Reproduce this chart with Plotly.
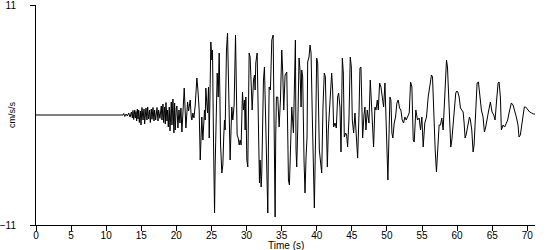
import plotly.graph_objects as go

# Time (s) and acceleration (cm/s/s), in segments
t_onset = [0, 12.40, 12.50, 12.64, 12.83, 13.02, 13.21, 13.40, 13.59, 13.73, 13.82, 13.92, 14.06, 14.15, 14.25, 14.34,
           14.44, 14.53, 14.63, 14.72, 14.87, 14.96, 15.10, 15.25, 15.39, 15.48, 15.67, 15.81, 15.91, 16.05, 16.19,
           16.29, 16.43, 16.53, 16.67, 16.81, 16.90, 17.05, 17.24, 17.38, 17.47, 17.66, 17.85, 17.95, 18.09, 18.18,
           18.33, 18.42, 18.52, 18.66, 18.75, 18.85, 18.99, 19.09, 19.28, 19.37, 19.51, 19.65, 19.75]
v_onset = [0, 0, 0.15, -0.15, 0.1, -0.1, 0.2, -0.2, 0.3, -0.3, 0.45, -0.45, 0.5, -0.3, 0.35, -0.6,
           0.6, -0.4, 0.5, -0.75, 0.4, -1.0, 0.75, -0.5, 0.6, -0.9, 0.7, -0.5, 0.8, -0.4, 0.5,
           -0.75, 0.6, -0.43, 0.75, -0.6, 0.5, -0.5, 0.75, -0.6, 0.5, -0.33, 0.9, -0.5, 1.1, -0.75,
           0.8, -0.9, 1.25, -0.6, 0.5, -1.2, 0.8, -1.6, 1.3, -1.0, 1.6, -1.8, 1.2]

t_s1 = [19.84, 19.99, 20.08, 20.22, 20.37, 20.51, 20.65, 20.79, 20.98, 21.12, 21.26, 21.36, 21.50, 21.60, 21.74,
        21.83, 21.97, 22.12, 22.21, 22.35, 22.50, 22.69, 22.92, 23.07, 23.16, 23.25, 23.40, 23.54, 23.63, 23.78,
        23.92, 24.01, 24.11, 24.20, 24.35, 24.44, 24.58, 24.68, 24.77, 24.91, 25.06, 25.15, 25.30, 25.34, 25.44,
        25.53, 25.63, 25.82, 25.96, 26.10, 26.20, 26.29, 26.48, 26.62, 26.76, 26.86, 26.95, 27.14, 27.29, 27.43,
        27.52, 27.66, 27.81, 27.90, 28.04, 28.23]
v_s1 = [-1.5, 0.7, 0.9, -1.3, 0.5, -0.8, 0.7, -1.7, 0.5, 2.7, 0.3, -1.3, 0.2, 1.3, 0.4,
        0.8, 1.5, -0.2, -0.5, 0.2, -0.3, 1.0, 3.7, 2.5, 1.8, 0.5, -4.5, -1.0, -0.2, -2.5,
        -0.5, 0.5, -0.5, 2.7, 1.0, 0.2, 2.8, -2.3, 1.0, 7.3, 5.5, 6.5, -3.0, -6.8, -9.8,
        -5.0, -1.5, 4.2, 1.8, 6.2, 2.0, -2.8, -5.8, -5.0, -2.0, -0.5, -1.5, 6.5, 8.2, 3.0,
        0.5, -4.5, -1.0, 0.8, -0.5, 1.0]

t_s2 = [28.43, 28.52, 28.66, 28.81, 28.95, 29.09, 29.23, 29.42, 29.56, 29.71, 29.80, 29.90, 30.04, 30.18, 30.37,
        30.51, 30.65, 30.80, 30.99, 31.13, 31.22, 31.32, 31.51, 31.70, 31.84, 31.93, 32.08, 32.17, 32.41, 32.55,
        32.74, 32.88, 33.03, 33.12, 33.22, 33.40, 33.60, 33.79, 33.88, 33.98, 34.07, 34.16, 34.26, 34.45, 34.64,
        34.83, 35.02, 35.16, 35.30, 35.49, 35.73, 35.87, 35.97, 36.11, 36.30, 36.44, 36.68, 36.82]
v_s2 = [8.0, 4.5, -2.0, -2.3, -3.0, -2.5, -3.0, 2.3, 0.5, 1.5, -1.5, 1.8, -4.5, -5.2, 6.2,
        5.8, 2.0, 0.5, 3.5, 4.0, 2.5, 5.2, 6.2, 0.2, -6.8, -4.5, -7.2, -5.8, 3.5, 4.8,
        -2.2, -6.0, -9.8, -3.0, 2.8, 2.5, 7.5, 8.0, 1.0, -5.0, -10.2, -2.0, 1.8, 1.8, -1.2,
        1.5, 6.5, 4.2, 0.5, 4.0, 4.3, -2.0, -6.5, -7.0, -2.2, 0.8, -1.8, 2.8]

t_s3 = [36.96, 37.05, 37.15, 37.29, 37.48, 37.62, 37.77, 37.86, 38.00, 38.19, 38.33, 38.48, 38.62, 38.71, 38.90,
        39.05, 39.19, 39.38, 39.52, 39.66, 39.85, 39.99, 40.14, 40.23, 40.37, 40.56, 40.71, 40.89, 41.08, 41.23,
        41.37, 41.51, 41.65, 41.84, 41.99, 42.13, 42.27, 42.41, 42.60, 42.79, 42.98, 43.12, 43.31, 43.46, 43.65,
        43.79, 43.93, 44.12, 44.26, 44.40, 44.59, 44.78, 44.93, 45.07, 45.26]
v_s3 = [7.5, -3.5, -5.2, -1.5, 5.7, 4.5, 0.8, 4.5, 3.8, -4.5, -7.8, -4.2, -2.2, 5.3, 5.8,
        7.0, 6.2, -0.5, -4.2, -9.3, -1.5, 5.7, 5.2, 0.5, -3.5, -4.8, -5.8, 0.8, 4.2, 3.8,
        -1.8, -5.2, -1.5, 0.8, 3.3, 4.2, 2.5, -1.2, -0.8, -1.3, 1.8, 2.2, 0.8, -3.7, 5.7,
        4.2, -2.2, -1.8, -2.0, -3.2, -0.5, 5.8, 4.8, -0.5, -1.8]

t_s4 = [45.45, 45.59, 45.69, 45.83, 46.02, 46.16, 46.30, 46.40, 46.54, 46.73, 46.87, 47.01, 47.20, 47.44, 47.63,
        47.82, 48.01, 48.10, 48.29, 48.44, 48.63, 48.77, 48.96, 49.15, 49.34, 49.53, 49.72, 49.86, 50.00, 50.14,
        50.28, 50.43, 50.57, 50.71, 50.85, 51.04, 51.23, 51.42, 51.61, 51.80, 51.99, 52.18, 52.37, 52.56, 52.75]
v_s4 = [0.2, -1.5, -2.5, -4.3, 0.0, 4.7, 4.8, 0.8, -2.3, 0.0, 0.8, -1.5, 0.5, -0.8, 3.5,
        0.8, -2.8, -3.2, 0.8, 0.5, 1.5, 0.5, 3.2, 2.8, 1.8, 0.8, 3.2, -0.8, -5.2, -6.5,
        -2.5, 1.8, 1.5, -1.8, -2.3, -0.8, -0.2, 1.2, 1.5, 0.7, 0.5, -0.5, -0.8, -0.2, -0.5]

t_s5 = [52.89, 53.18, 53.37, 53.56, 53.75, 53.89, 54.12, 54.36, 54.60, 54.79, 54.98, 55.17, 55.40, 55.64, 55.88,
        56.11, 56.35, 56.50, 56.69, 56.88, 57.06, 57.25, 57.44, 57.63, 57.82, 58.01, 58.25, 58.49, 58.63, 58.77,
        58.96, 59.10, 59.25, 59.44, 59.67]
v_s5 = [-0.2, 0.2, 3.3, 2.8, -2.5, -2.7, 0.5, -0.5, -0.3, -1.5, -0.2, -3.2, -0.8, -0.2, 1.8,
        3.0, 4.0, 3.8, -0.8, -3.5, -5.7, -3.5, -1.0, -1.0, -0.3, -1.5, 1.5, 5.5, 4.8, 2.2,
        -0.8, -3.2, -2.5, -0.8, 1.5]

t_coda = [59.81, 59.96, 60.10, 60.29, 60.48, 60.67, 60.86, 61.00, 61.14, 61.28, 61.43, 61.57, 61.76, 61.90, 62.09,
          62.28, 62.42, 62.56, 62.71, 62.85, 63.04, 63.23, 63.46, 63.70, 63.89, 64.08, 64.27, 64.46, 64.74, 64.98,
          65.22, 65.41, 65.60, 65.84, 65.98, 66.17, 66.31, 66.55, 66.78, 67.02, 67.21, 67.40, 67.59, 67.73, 67.97,
          68.21, 68.44, 68.68, 68.82, 69.01, 69.20, 69.39, 69.58, 69.77, 69.96, 70.15, 70.34, 70.63, 70.91, 71.15]
v_coda = [2.2, 2.4, 2.3, 1.8, 0.7, 0.5, 0.3, -0.8, -2.3, -2.0, -1.5, -0.8, -0.2, -0.5, -1.5,
          -3.7, -3.0, -1.0, 1.0, 3.2, 3.3, 2.0, 0.5, -0.2, -1.7, -1.2, -0.2, 0.3, 1.3, 0.3,
          0.0, -0.5, 1.2, 3.2, 3.3, 1.8, -1.5, -1.0, -1.2, -0.8, -0.5, 0.2, 0.7, 1.2, 1.0,
          0.5, -0.2, -1.0, -2.2, -2.0, -1.0, 0.2, 0.8, 0.8, 0.6, 0.4, 0.3, 0.2, 0.1, 0.1]

x_ticks = [0, 5, 10, 15, 20, 25, 30, 35, 40, 45, 50, 55, 60, 65, 70]
y_ticks = [-11, 11]
x_title = "Time (s)"
y_title = "cm/s/s"

segments = [(t_onset, v_onset), (t_s1, v_s1), (t_s2, v_s2), (t_s3, v_s3),
            (t_s4, v_s4), (t_s5, v_s5), (t_coda, v_coda)]
time, accel = [], []
for ts, vs in segments:
    assert len(ts) == len(vs), (len(ts), len(vs))
    time += ts
    accel += vs

FONT = "Liberation Sans, Arial, sans-serif"

fig = go.Figure(go.Scatter(x=time, y=accel, mode="lines",
                           line=dict(color="black", width=1), hoverinfo="skip"))

fig.update_layout(
    width=550, height=250,
    margin=dict(l=36, r=15, t=5, b=25, autoexpand=False),
    paper_bgcolor="white", plot_bgcolor="white",
    showlegend=False,
    font=dict(family=FONT, size=10, color="#000000"),
    xaxis=dict(range=[0, 71.1], tickvals=x_ticks, ticks="outside", ticklen=5,
               tickcolor="black", showline=True, linecolor="black", linewidth=1,
               showgrid=False, zeroline=False, tickfont=dict(size=10, color="#000000"),
               ticklabelstandoff=-4, ticklabeloverflow="allow", automargin=False),
    yaxis=dict(range=[-11, 11], tickvals=y_ticks, ticks="outside", ticklen=5,
               tickcolor="black", showline=True, linecolor="black", linewidth=1,
               showgrid=False, zeroline=False, tickfont=dict(size=10, color="#000000"),
               ticklabelstandoff=12, ticklabeloverflow="allow", automargin=False),
    annotations=[
        dict(text=y_title, xref="paper", yref="paper", x=-0.048, y=0.5,
             xanchor="center", yanchor="middle", textangle=-90, showarrow=False,
             font=dict(size=9, color="#000000")),
        dict(text=x_title, xref="paper", yref="paper", x=0.5, y=-0.06,
             xanchor="center", yanchor="top", showarrow=False,
             font=dict(size=10, color="#000000")),
    ],
)

fig.write_html("out.html")
